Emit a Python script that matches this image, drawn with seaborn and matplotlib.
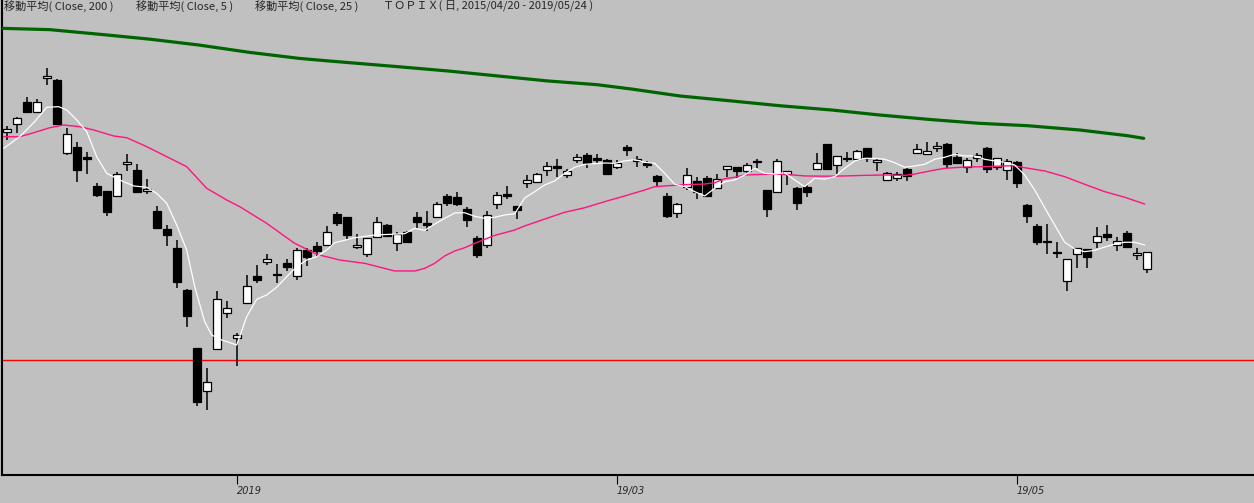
import numpy as np
import pandas as pd
import seaborn as sns
import matplotlib
matplotlib.use('Agg')
import matplotlib.pyplot as plt

# TOPIX daily candles, 2018/11/27 - 2019/05/24
opens = [1641.4, 1647.6, 1666.1, 1658.2, 1686.2, 1684.8, 1623.7, 1628.3, 1619.9, 1595.8,
         1591.6, 1587.6, 1614.0, 1609.2, 1591.6, 1574.8, 1559.6, 1543.7, 1508.7, 1459.7,
         1423.6, 1458.8, 1489.3, 1467.8, 1497.7, 1520.2, 1532.2, 1521.8, 1531.3, 1520.4,
         1541.7, 1545.4, 1545.9, 1572.0, 1569.7, 1544.3, 1538.6, 1552.7, 1562.7, 1547.6,
         1557.4, 1569.5, 1564.4, 1569.5, 1587.4, 1586.5, 1576.4, 1552.3, 1546.5, 1580.9,
         1588.8, 1579.0, 1598.0, 1598.9, 1608.9, 1612.3, 1604.7, 1617.9, 1621.8, 1619.0,
         1617.6, 1611.5, 1628.3, 1617.0, 1615.3, 1604.2, 1587.4, 1572.8, 1594.7, 1600.0,
         1602.5, 1594.3, 1610.0, 1611.5, 1608.1, 1616.8, 1592.4, 1591.0, 1605.8, 1594.1,
         1594.9, 1610.3, 1631.0, 1613.1, 1619.5, 1618.7, 1627.4, 1615.7, 1600.5, 1602.2,
         1610.3, 1623.2, 1622.4, 1627.4, 1631.0, 1620.1, 1612.0, 1619.5, 1627.7, 1612.0,
         1609.5, 1615.9, 1579.8, 1562.2, 1549.3, 1540.3, 1516.2, 1538.6, 1542.6, 1549.0,
         1555.4, 1545.9, 1556.3, 1537.5, 1525.8]
highs = [1646.2, 1654.0, 1670.5, 1668.6, 1694.9, 1685.6, 1644.5, 1632.5, 1624.1, 1598.3,
         1591.6, 1607.5, 1622.6, 1614.2, 1601.6, 1579.0, 1563.0, 1550.4, 1509.2, 1459.7,
         1442.9, 1507.6, 1499.2, 1472.5, 1521.0, 1529.4, 1538.6, 1530.0, 1534.4, 1543.4,
         1543.4, 1548.5, 1562.4, 1573.9, 1569.7, 1555.2, 1551.8, 1569.7, 1563.8, 1557.4,
         1558.2, 1573.7, 1574.8, 1582.1, 1589.0, 1590.7, 1577.9, 1553.8, 1574.8, 1590.5,
         1595.8, 1579.0, 1605.0, 1606.9, 1615.7, 1618.4, 1609.8, 1622.6, 1623.5, 1622.6,
         1618.2, 1617.6, 1630.2, 1621.2, 1616.8, 1605.0, 1590.1, 1581.7, 1611.1, 1603.1,
         1604.4, 1605.6, 1612.3, 1611.5, 1615.3, 1618.2, 1592.4, 1618.2, 1608.1, 1595.2,
         1596.6, 1623.2, 1631.0, 1620.7, 1624.6, 1626.3, 1627.4, 1618.7, 1607.8, 1607.8,
         1611.1, 1630.8, 1632.5, 1632.7, 1631.9, 1623.2, 1619.0, 1623.2, 1628.5, 1619.0,
         1618.4, 1617.0, 1580.6, 1563.8, 1563.8, 1548.7, 1534.2, 1543.4, 1542.6, 1561.3,
         1563.0, 1552.9, 1557.7, 1543.7, 1540.3]
lows = [1634.4, 1640.5, 1658.2, 1658.2, 1680.9, 1647.0, 1622.1, 1598.9, 1606.1, 1586.3,
        1570.8, 1586.8, 1608.6, 1589.6, 1589.0, 1560.7, 1545.6, 1510.1, 1477.3, 1411.2,
        1407.6, 1458.0, 1484.9, 1444.8, 1496.9, 1514.0, 1529.4, 1514.0, 1524.6, 1517.1,
        1528.8, 1536.4, 1545.9, 1562.4, 1551.2, 1542.6, 1536.4, 1552.7, 1553.2, 1540.9,
        1549.0, 1560.2, 1558.2, 1569.5, 1579.2, 1579.2, 1561.6, 1535.5, 1543.9, 1576.7,
        1584.8, 1567.8, 1594.3, 1598.9, 1604.4, 1603.6, 1602.2, 1615.1, 1611.1, 1614.0,
        1606.1, 1609.8, 1621.2, 1611.7, 1611.1, 1596.0, 1569.1, 1569.1, 1592.4, 1584.6,
        1587.1, 1593.8, 1603.6, 1602.2, 1605.6, 1610.6, 1570.0, 1590.1, 1596.6, 1575.6,
        1586.8, 1610.3, 1609.8, 1606.1, 1616.2, 1618.7, 1615.7, 1608.6, 1600.5, 1599.7,
        1599.7, 1623.2, 1621.8, 1624.1, 1610.6, 1614.0, 1606.9, 1616.2, 1606.9, 1609.2,
        1601.1, 1594.3, 1564.9, 1546.2, 1538.9, 1535.5, 1507.8, 1527.1, 1526.6, 1543.9,
        1549.6, 1541.4, 1544.8, 1533.9, 1522.9]
closes = [1643.6, 1652.6, 1658.2, 1666.1, 1688.2, 1648.1, 1639.4, 1609.5, 1618.7, 1588.5,
          1574.2, 1605.6, 1615.9, 1591.0, 1593.2, 1560.7, 1554.9, 1515.4, 1486.8, 1414.6,
          1431.1, 1500.8, 1493.0, 1470.6, 1511.8, 1516.8, 1534.2, 1521.0, 1528.0, 1541.7,
          1536.4, 1541.4, 1556.9, 1564.9, 1554.6, 1546.2, 1551.8, 1565.3, 1554.0, 1555.7,
          1549.0, 1565.5, 1563.0, 1580.4, 1581.7, 1580.6, 1567.5, 1538.1, 1571.1, 1587.9,
          1587.4, 1575.9, 1600.8, 1605.6, 1612.3, 1611.1, 1608.4, 1619.9, 1615.1, 1617.9,
          1606.1, 1614.8, 1626.0, 1618.4, 1613.7, 1600.2, 1570.8, 1580.6, 1604.7, 1591.0,
          1587.1, 1601.9, 1612.3, 1608.6, 1613.1, 1615.7, 1576.2, 1616.8, 1608.1, 1581.5,
          1590.5, 1615.1, 1609.8, 1620.7, 1618.7, 1625.2, 1619.5, 1617.6, 1606.4, 1605.6,
          1603.9, 1626.6, 1624.9, 1629.1, 1614.0, 1615.3, 1617.3, 1621.5, 1610.3, 1619.0,
          1616.5, 1598.5, 1570.8, 1549.0, 1548.5, 1539.7, 1534.2, 1543.4, 1536.4, 1553.8,
          1553.2, 1549.3, 1544.8, 1539.5, 1540.3]

# moving averages (x = bar index)
ma200_x = [-0.5, 4.3, 9.3, 14.2, 19.2, 24.2, 29.2, 32.2, 39.1, 44.1, 49.1, 54.1, 59.0,
           62.5, 67.3, 72.5, 77.3, 82.5, 87.3, 92.5, 97.3, 102.1, 107.3, 112.1, 113.7]
ma200_y = [1728.2, 1727.1, 1723.2, 1719.2, 1714.2, 1708.1, 1703.0, 1700.8, 1696.0, 1692.4,
           1688.2, 1684.0, 1680.9, 1677.2, 1671.4, 1667.2, 1663.2, 1659.6, 1655.4, 1651.5,
           1648.4, 1646.4, 1642.8, 1638.0, 1635.8]

ma5_x = [-0.3, 1.3, 2.8, 4.0, 5.2, 6.0, 7.0, 8.0, 9.0, 10.0, 11.3, 12.7, 14.0, 15.0, 16.0,
         17.0, 18.0, 18.8, 19.8, 20.5, 21.5, 23.0, 24.0, 25.0, 26.0, 27.0, 28.0, 29.0, 30.0,
         31.0, 32.0, 32.8, 34.8, 36.8, 39.8, 40.8, 41.8, 42.8, 43.8, 44.8, 45.8, 46.8, 47.8,
         48.8, 49.8, 50.8, 51.8, 52.8, 53.8, 54.8, 55.8, 56.8, 57.8, 58.8, 59.8, 60.8, 61.8,
         62.8, 63.8, 64.8, 65.8, 66.8, 67.8, 68.8, 69.8, 70.8, 71.8, 72.8, 73.8, 74.8, 75.8,
         76.8, 77.8, 78.8, 79.8, 80.8, 81.8, 82.8, 83.8, 84.8, 85.8, 86.8, 87.8, 88.8, 89.8,
         90.8, 91.8, 92.8, 93.8, 94.8, 95.8, 96.8, 97.8, 98.8, 99.8, 100.8, 101.8, 102.8,
         103.8, 104.8, 105.8, 106.8, 107.8, 108.8, 109.8, 110.8, 111.8, 112.8, 113.8]
ma5_y = [1627.4, 1637.2, 1649.8, 1661.9, 1662.4, 1659.6, 1651.2, 1641.4, 1620.4, 1606.4,
         1600.8, 1595.8, 1594.7, 1589.6, 1581.2, 1563.0, 1542.0, 1511.2, 1481.8, 1470.6,
         1466.4, 1462.2, 1486.0, 1500.6, 1504.2, 1510.7, 1519.6, 1528.0, 1533.6, 1536.4,
         1542.0, 1548.1, 1552.3, 1554.6, 1555.7, 1560.2, 1558.5, 1563.8, 1568.6, 1573.1,
         1573.3, 1570.3, 1568.6, 1569.5, 1571.4, 1572.5, 1585.7, 1591.0, 1596.6, 1600.0,
         1606.4, 1611.5, 1614.0, 1614.5, 1615.1, 1614.8, 1616.8, 1617.9, 1615.7, 1614.8,
         1606.4, 1597.2, 1595.2, 1591.0, 1587.4, 1593.8, 1599.4, 1600.8, 1605.0, 1610.6,
         1606.4, 1605.8, 1606.9, 1600.8, 1595.2, 1602.2, 1601.6, 1603.6, 1610.6, 1616.8,
         1619.0, 1619.0, 1618.2, 1615.3, 1611.5, 1612.6, 1614.0, 1618.2, 1619.9, 1622.4,
         1621.0, 1621.0, 1618.2, 1616.8, 1615.7, 1613.4, 1605.0, 1592.4, 1577.5, 1563.0,
         1548.5, 1542.8, 1540.6, 1541.7, 1544.5, 1547.0, 1548.5, 1548.5, 1546.2]

ma25_x = [-0.3, 1.3, 2.7, 4.3, 5.7, 7.3, 8.7, 10.7, 12.0, 14.0, 16.0, 18.0, 20.0, 22.0,
          23.3, 26.0, 28.7, 31.0, 33.3, 35.8, 38.8, 40.8, 41.8, 42.8, 43.8, 44.8, 45.8,
          46.8, 47.8, 48.8, 49.8, 50.8, 51.8, 53.8, 55.8, 57.8, 59.8, 61.8, 63.8, 64.8,
          65.8, 67.8, 69.8, 70.8, 71.8, 72.8, 73.8, 75.8, 77.8, 79.8, 81.8, 83.8, 85.8,
          87.8, 89.8, 90.8, 91.8, 92.8, 93.8, 95.8, 97.8, 99.8, 100.8, 101.8, 103.8,
          105.8, 107.8, 109.8, 111.8, 113.8]
ma25_y = [1637.2, 1637.2, 1640.5, 1644.7, 1647.0, 1645.6, 1642.8, 1637.8, 1636.3, 1628.8,
          1620.4, 1612.0, 1593.8, 1584.0, 1578.4, 1564.4, 1548.1, 1538.4, 1533.6, 1530.8,
          1524.4, 1524.4, 1526.6, 1530.8, 1537.0, 1541.2, 1543.9, 1547.6, 1551.0, 1554.3,
          1556.5, 1558.8, 1562.2, 1568.0, 1573.7, 1577.5, 1582.6, 1587.4, 1592.4, 1595.2,
          1595.8, 1596.9, 1597.4, 1598.5, 1601.9, 1603.1, 1605.0, 1605.6, 1605.6, 1604.2,
          1604.0, 1604.2, 1604.7, 1605.0, 1604.7, 1605.8, 1607.5, 1609.2, 1610.6, 1611.7,
          1612.0, 1612.6, 1612.8, 1611.1, 1608.4, 1603.6, 1597.2, 1591.0, 1586.3, 1580.6]

red_level = 1449.6

tick_idx = [23, 61, 101]
tick_labels = ['2019', '19/03', '19/05']

header = ['移動平均( Close, 200 )', '移動平均( Close, 5 )', '移動平均( Close, 25 )',
          'ＴＯＰＩＸ( 日, 2015/04/20 - 2019/05/24 )']

sns.set_theme(style='white', rc={'axes.facecolor': '#c0c0c0',
                                 'figure.facecolor': '#c0c0c0',
                                 'axes.edgecolor': 'black'})
plt.rcParams['font.family'] = ['Noto Sans CJK JP', 'DejaVu Sans']

W, H = 1254, 503
fig = plt.figure(figsize=(W / 100, H / 100), dpi=100)
ax = fig.add_axes([2 / W, 28 / H, (W - 2) / W, 475 / H])

df = pd.DataFrame({'o': opens, 'h': highs, 'l': lows, 'c': closes})
df['i'] = np.arange(len(df))
up = df['c'] > df['o']

ax.axhline(red_level, color='red', lw=1.0, zorder=1.5)
ax.vlines(df['i'], df['l'], df['h'], color='black', lw=1.1, zorder=2)
ax.bar(df['i'], (df['c'] - df['o']).abs().clip(lower=0.6),
       bottom=np.minimum(df['o'], df['c']), width=0.8,
       color=np.where(up, 'white', 'black'), edgecolor='black', linewidth=0.9, zorder=3)

sns.lineplot(x=ma200_x, y=ma200_y, ax=ax, color='#006400', lw=2.3, sort=False,
             estimator=None, zorder=4)
sns.lineplot(x=ma25_x, y=ma25_y, ax=ax, color='#ff1480', lw=1.0, sort=False,
             estimator=None, zorder=4)
sns.lineplot(x=ma5_x, y=ma5_y, ax=ax, color='white', lw=0.9, sort=False,
             estimator=None, zorder=5)

ax.set_xlim(-0.47, 124.73)
ax.set_ylim(1353, 1752)
ax.set_yticks([])
ax.set_xticks(tick_idx)
ax.set_xticklabels(tick_labels, fontsize=7, style='italic', family='DejaVu Sans', ha='left')
ax.tick_params(axis='x', direction='out', length=6.5, width=0.8, color='black', pad=1.5,
               bottom=True)
ax.set_xlabel('')
ax.set_ylabel('')
for s in ['top', 'right']:
    ax.spines[s].set_visible(False)
for s in ['left', 'bottom']:
    ax.spines[s].set_linewidth(1.5)

for x, s in zip([4, 136, 255, 383], header):
    fig.text(x / W, 1 - 6.5 / H, s, fontsize=8, style='italic', va='center', ha='left')

fig.savefig('out.png', dpi=100)
